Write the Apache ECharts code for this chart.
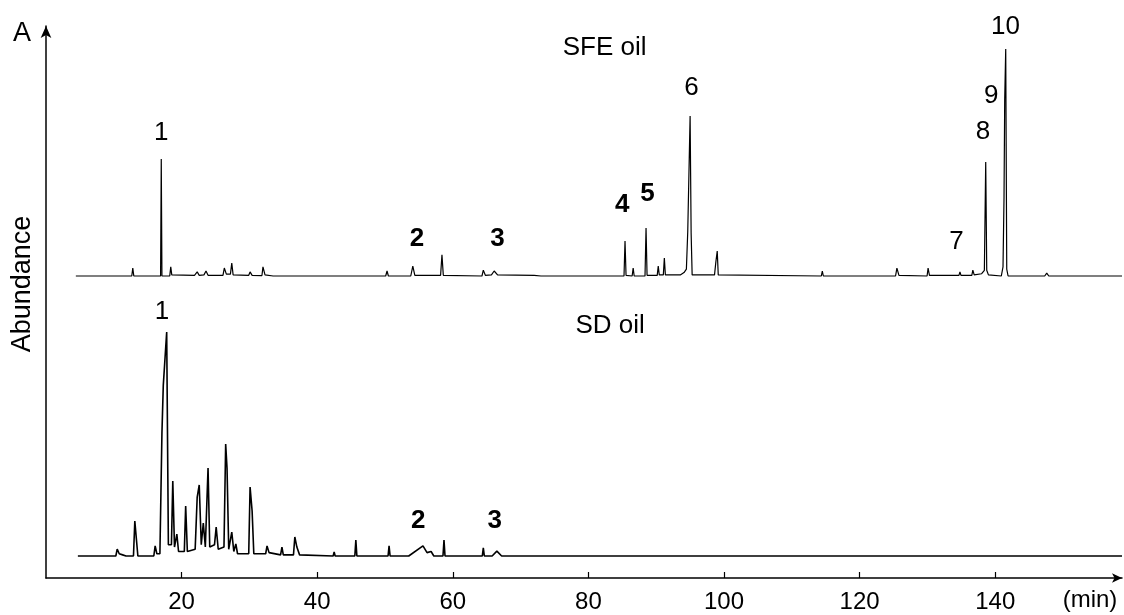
<!DOCTYPE html>
<html>
<head>
<meta charset="utf-8">
<script src="https://cdn.jsdelivr.net/npm/echarts@6/dist/echarts.min.js"></script>
<style>html,body{margin:0;padding:0;background:#fff;}#c{width:1124px;height:615px;}</style>
</head>
<body>
<div id="c"></div>
<script>
// ---- data (time in min, abundance relative to the tallest peak of each trace) ----
const xTicks = [20, 40, 60, 80, 100, 120, 140];

const sfeTrace = [
  [4.4,0],[12.65,0],[12.8,3.5],[12.95,0],
  [16.9,0],[17.0,51.5],[17.1,0],
  [18.25,0],[18.4,4],[18.55,0.5],
  [21.9,0.3],[22.3,1.8],[22.6,0.3],[23.3,0.5],[23.6,2.2],[23.9,0.3],
  [26.1,0.3],[26.3,3.5],[26.6,0.8],[27.2,0.8],[27.4,5.7],[27.6,0.5],
  [29.9,0.3],[30.1,1.8],[30.4,0.3],[31.85,0.2],[32.0,4],[32.3,0.5],[33.5,0],
  [50.1,0],[50.3,2.2],[50.5,0],
  [53.8,0],[54.1,4.4],[54.4,0.3],
  [58.2,0.3],[58.4,9.3],[58.6,0.3],
  [64.3,0],[64.5,2.6],[64.8,0.3],[65.7,0.5],[66.1,2.2],[66.6,0.5],[72,0.3],[73,0],
  [85.25,0],[85.4,15.4],[85.55,0.3],
  [86.45,0],[86.6,3.5],[86.75,0],
  [88.35,0],[88.5,21.1],[88.65,0.3],
  [90.15,0.3],[90.3,4.4],[90.45,0.5],[91.05,0.5],[91.2,7.9],[91.35,0.5],
  [93.6,0.5],[94.1,1.5],[94.45,3],[94.65,19.4],[94.85,20],[95.0,70.5],[95.15,19],[95.3,0.5],
  [98.6,0.5],[98.8,6.2],[99.0,11],[99.15,0.5],
  [114.35,0],[114.5,2.2],[114.65,0],
  [125.3,0],[125.5,3.5],[125.8,0.3],
  [129.95,0],[130.1,3.5],[130.3,0.3],
  [134.65,0.3],[134.8,1.8],[134.95,0.3],
  [136.55,0.3],[136.7,2.6],[136.9,0.5],
  [138.0,1],[138.4,2.5],[138.6,50.2],[138.75,2.5],[139.0,0.5],
  [140.9,0],[141.15,4],[141.3,34.8],[141.4,77.5],[141.55,100],[141.7,3],[141.9,0],
  [147.3,0],[147.6,1.3],[147.9,0],
  [158.7,0]
];

const sdTrace = [
  [4.7,0],[10.3,0],[10.5,3.1],[10.8,1],[11.3,0.5],[11.8,0],
  [12.9,0],[13.1,15.6],[13.35,15],[13.55,0],
  [15.9,0],[16.1,4.5],[16.35,1],
  [16.8,1],[17.1,54.9],[17.3,76.3],[17.8,100],[18.05,5],
  [18.5,5],[18.7,33.5],[18.95,4],[19.3,9.8],[19.55,2],
  [20.4,2],[20.6,22.3],[20.85,2],
  [22.0,3],[22.3,26.3],[22.6,31.7],[22.9,5],[23.2,14.7],[23.5,4],[23.9,39.3],[24.15,4],
  [24.85,5],[25.1,12.9],[25.4,3],
  [26.25,4],[26.5,50],[26.7,39.3],[26.95,3],[27.4,10.7],[27.7,2],[28.0,5.4],[28.25,1],
  [29.9,1],[30.1,30.8],[30.4,20.1],[30.65,1],
  [32.4,1],[32.6,4.5],[32.9,1.5],[34.6,0.5],[34.8,4],[35.0,0.5],
  [36.5,0.5],[36.7,8.5],[37.0,4],[37.4,0.5],[42.35,0],[42.5,1.8],[42.65,0],
  [45.55,0],[45.7,7.1],[45.85,0],
  [50.45,0],[50.6,4.5],[50.75,0],
  [53.5,0],[55.6,4.5],[56.2,1.5],[56.8,2],[57.2,0],
  [58.55,0],[58.7,7.1],[58.85,0],
  [64.35,0],[64.5,3.6],[64.65,0],
  [65.8,0],[66.5,2.2],[67.2,0],
  [158.7,0]
];

// peak labels: [text, time, height, bold]
const sfeLabels = [
  ['1', 17.0, 63, false],
  ['2', 54.7, 16.3, true],
  ['3', 66.6, 16.3, true],
  ['4', 85.0, 31.3, true],
  ['5', 88.7, 36.1, true],
  ['6', 95.2, 82.8, false],
  ['7', 134.3, 15, false],
  ['8', 138.2, 63.4, false],
  ['9', 139.4, 79.3, false],
  ['10', 141.5, 109.7, false],
  ['SFE oil', 82.4, 100.4, false]
];
const sdLabels = [
  ['1', 17.1, 109, false],
  ['2', 54.9, 15.6, true],
  ['3', 66.2, 15.6, true],
  ['SD oil', 83.2, 102.7, false]
];

const FONT = "'Liberation Sans', Arial, sans-serif";
const INK = '#000';

function labelData(list) {
  return list.map(function (d) {
    return {
      name: d[0],
      value: [d[1], d[2]],
      label: { fontWeight: d[3] ? 'bold' : 'normal' }
    };
  });
}

const chart = echarts.init(document.getElementById('c'), null, { renderer: 'canvas' });
const hiddenX = { type: 'value', min: 0, max: 158.7, show: false };
const labelStyle = { show: true, position: 'inside', formatter: '{b}', color: INK, fontSize: 26, fontFamily: FONT, opacity: 1, textBorderWidth: 0 };
chart.setOption({
  animation: false,
  backgroundColor: '#fff',
  grid: [
    { left: 46, right: 2, top: 26, bottom: 37 },
    { left: 46, right: 2, top: 15, bottom: 339 },
    { left: 46, right: 2, top: 287.2, bottom: 59 }
  ],
  xAxis: [
    {
      gridIndex: 0, type: 'value', min: 0, max: 158.7,
      axisLine: { show: true, lineStyle: { color: INK, width: 1.5 }, symbol: ['none', 'arrow'], symbolSize: [7, 10] },
      axisTick: { show: true, inside: true, length: 6, lineStyle: { color: INK, width: 1.2 }, customValues: xTicks },
      axisLabel: { show: true, customValues: xTicks, color: INK, fontSize: 24, fontFamily: FONT, margin: 12 },
      splitLine: { show: false }
    },
    Object.assign({ gridIndex: 1 }, hiddenX),
    Object.assign({ gridIndex: 2 }, hiddenX)
  ],
  yAxis: [
    {
      gridIndex: 0, type: 'value', min: 0, max: 1,
      axisLine: { show: true, lineStyle: { color: INK, width: 1.5 }, symbol: ['none', 'arrow'], symbolSize: [8, 12] },
      axisTick: { show: false }, axisLabel: { show: false }, splitLine: { show: false }
    },
    { gridIndex: 1, type: 'value', min: 0, max: 115, show: false },
    { gridIndex: 2, type: 'value', min: 0, max: 120, show: false }
  ],
  graphic: [
    { type: 'text', left: 13, top: 20, style: { text: 'A', font: '27px ' + FONT, fill: INK } },
    { type: 'text', x: 23, y: 284, rotation: Math.PI / 2, style: { text: 'Abundance', font: '27px ' + FONT, fill: INK, align: 'center', verticalAlign: 'middle' } },
    { type: 'text', x: 1090, y: 600, style: { text: '(min)', font: '24px ' + FONT, fill: INK, align: 'center', verticalAlign: 'middle' } }
  ],
  series: [
    {
      type: 'line', xAxisIndex: 1, yAxisIndex: 1, data: sfeTrace,
      showSymbol: false, symbol: 'none', clip: false,
      lineStyle: { color: INK, width: 1.2 }
    },
    {
      type: 'line', xAxisIndex: 2, yAxisIndex: 2, data: sdTrace,
      showSymbol: false, symbol: 'none', clip: false,
      lineStyle: { color: INK, width: 1.6 }
    },
    {
      type: 'scatter', xAxisIndex: 1, yAxisIndex: 1, symbolSize: 0, data: labelData(sfeLabels),
      label: labelStyle, silent: true
    },
    {
      type: 'scatter', xAxisIndex: 2, yAxisIndex: 2, symbolSize: 0, data: labelData(sdLabels),
      label: labelStyle, silent: true
    }
  ]
});
</script>
</body>
</html>
